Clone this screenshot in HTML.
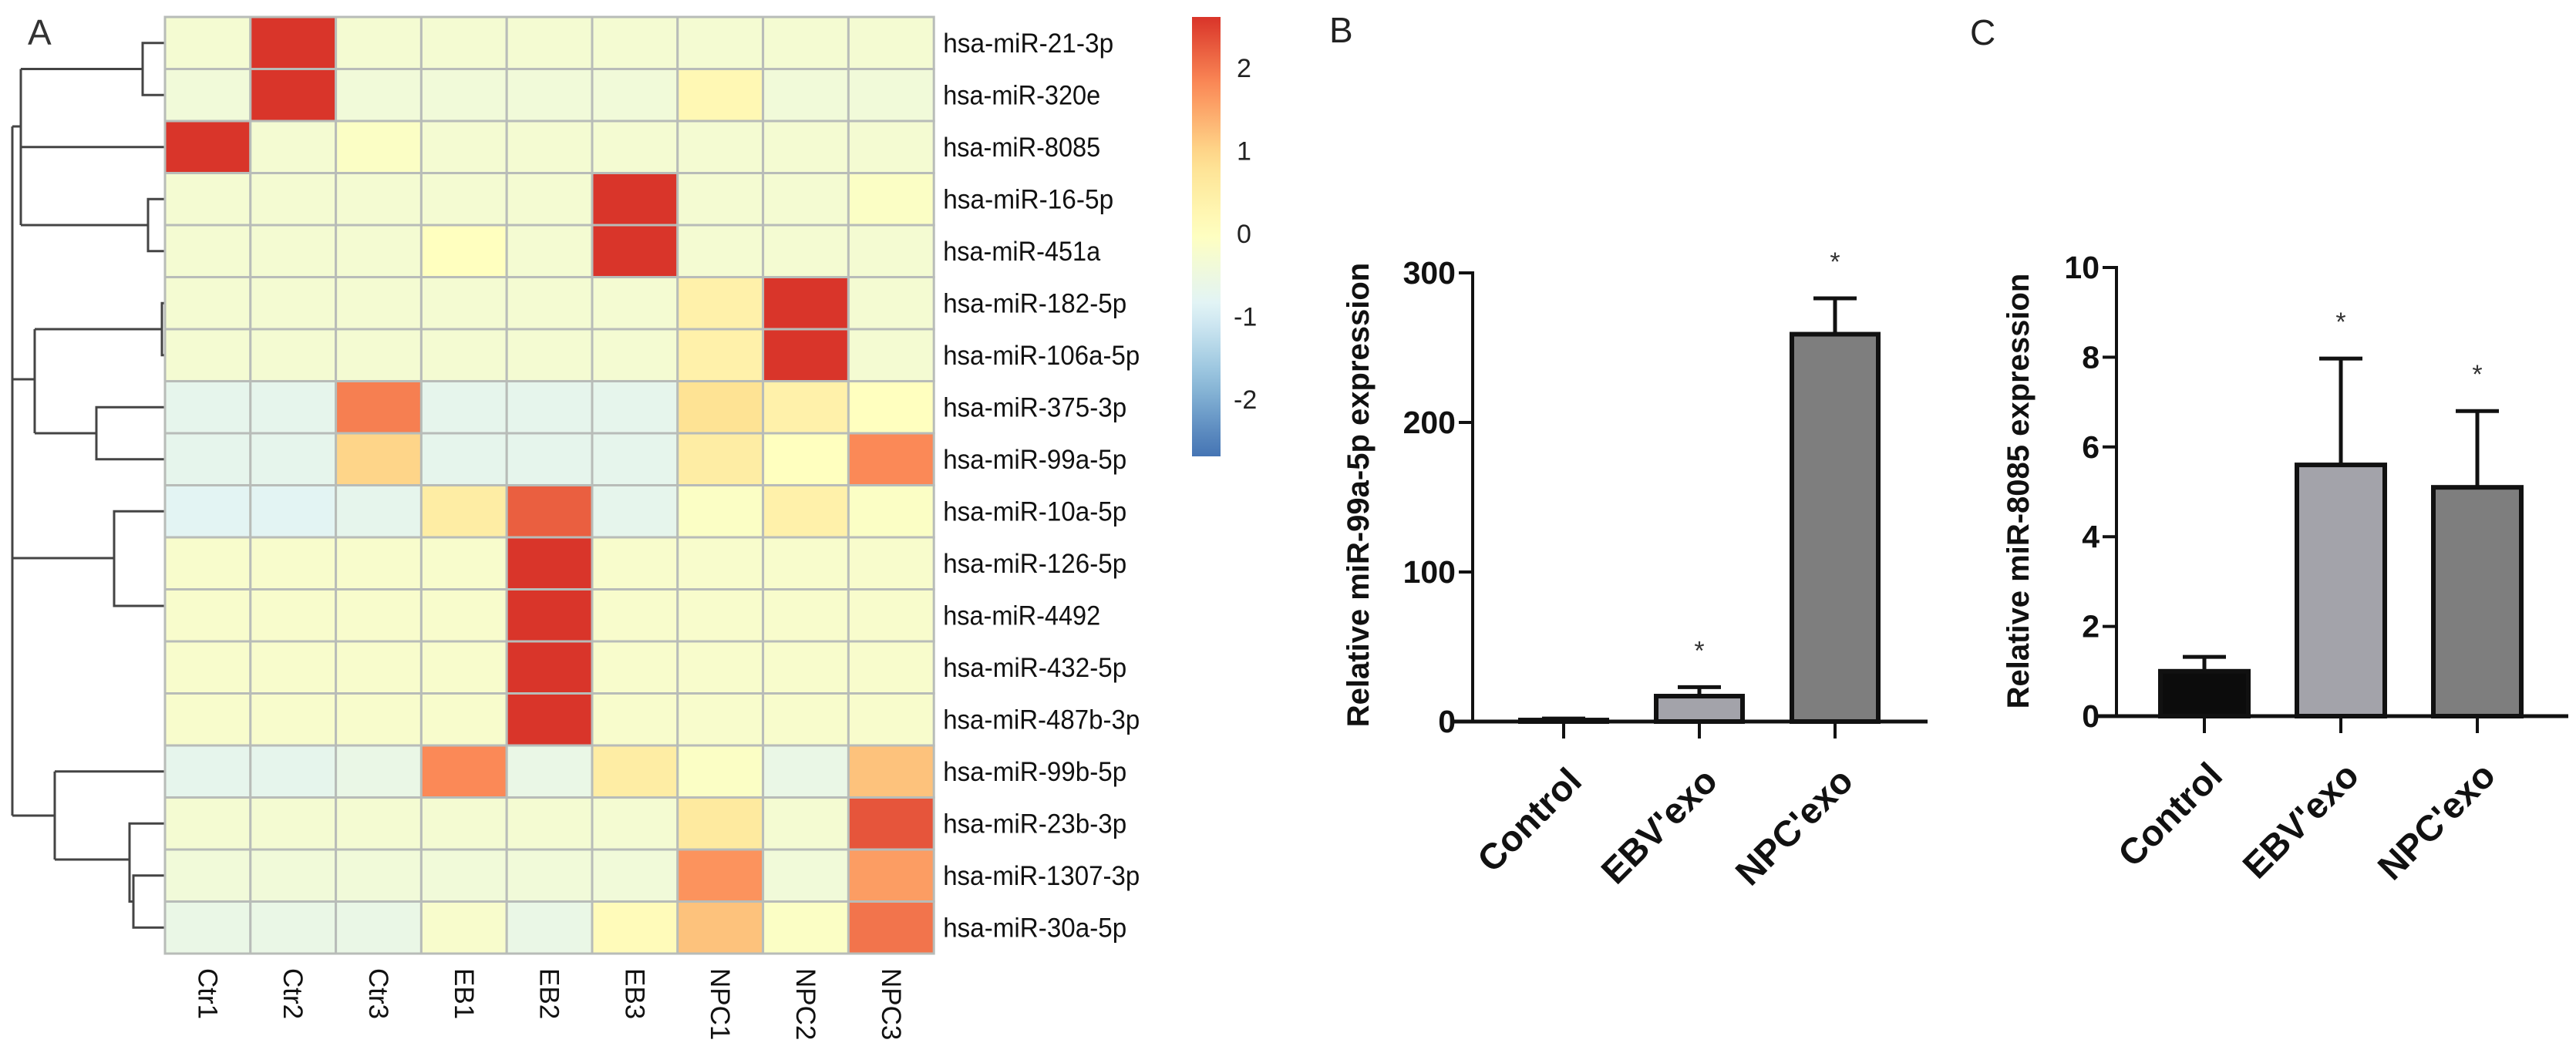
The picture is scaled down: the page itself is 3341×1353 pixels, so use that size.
<!DOCTYPE html>
<html><head><meta charset="utf-8"><style>
html,body{margin:0;padding:0;background:#fff;}
svg{display:block;font-family:"Liberation Sans",Arial,sans-serif;}
</style></head><body>
<svg id="fig" width="3341" height="1353" viewBox="0 0 3341 1353" xmlns="http://www.w3.org/2000/svg">
<rect width="3341" height="1353" fill="#fff"/>
<text x="36" y="58" font-size="46" fill="#333">A</text>
<text x="1724" y="55" font-size="46" fill="#222">B</text>
<text x="2555" y="58" font-size="46" fill="#222">C</text>
<g id="dendro" stroke="#444" stroke-width="3" fill="none"></g>
<g id="heat"></g>
<g id="cbar"></g>
<g id="chartB"></g>
<g id="chartC"></g>
</svg>
<script>
const rowNames=["hsa-miR-21-3p","hsa-miR-320e","hsa-miR-8085","hsa-miR-16-5p","hsa-miR-451a","hsa-miR-182-5p","hsa-miR-106a-5p","hsa-miR-375-3p","hsa-miR-99a-5p","hsa-miR-10a-5p","hsa-miR-126-5p","hsa-miR-4492","hsa-miR-432-5p","hsa-miR-487b-3p","hsa-miR-99b-5p","hsa-miR-23b-3p","hsa-miR-1307-3p","hsa-miR-30a-5p"];
const colNames=["Ctr1","Ctr2","Ctr3","EB1","EB2","EB3","NPC1","NPC2","NPC3"];
const heatValues=[
[-0.3,2.6,-0.3,-0.3,-0.3,-0.3,-0.3,-0.3,-0.3],
[-0.4,2.6,-0.4,-0.4,-0.4,-0.4,0.2,-0.4,-0.4],
[2.6,-0.3,-0.1,-0.3,-0.3,-0.3,-0.3,-0.3,-0.3],
[-0.3,-0.3,-0.3,-0.3,-0.3,2.6,-0.3,-0.3,-0.1],
[-0.3,-0.3,-0.3,0.0,-0.3,2.6,-0.3,-0.3,-0.3],
[-0.3,-0.3,-0.3,-0.3,-0.3,-0.3,0.4,2.6,-0.3],
[-0.3,-0.3,-0.3,-0.3,-0.3,-0.3,0.4,2.6,-0.3],
[-0.7,-0.7,1.9,-0.7,-0.7,-0.7,0.8,0.4,0.0],
[-0.7,-0.7,1.0,-0.7,-0.7,-0.7,0.5,0.0,1.8],
[-0.8,-0.8,-0.7,0.5,2.2,-0.7,-0.1,0.4,-0.1],
[-0.2,-0.2,-0.2,-0.2,2.6,-0.2,-0.2,-0.2,-0.2],
[-0.2,-0.2,-0.2,-0.2,2.6,-0.2,-0.2,-0.2,-0.2],
[-0.2,-0.2,-0.2,-0.2,2.6,-0.2,-0.2,-0.2,-0.2],
[-0.2,-0.2,-0.2,-0.2,2.6,-0.2,-0.2,-0.2,-0.2],
[-0.7,-0.7,-0.6,1.8,-0.6,0.5,-0.1,-0.6,1.2],
[-0.3,-0.3,-0.3,-0.3,-0.3,-0.3,0.6,-0.3,2.3],
[-0.4,-0.4,-0.4,-0.4,-0.4,-0.4,1.7,-0.4,1.6],
[-0.6,-0.6,-0.6,-0.2,-0.6,0.1,1.2,-0.1,2.0]];
const cbarTicks=[2,1,0,-1,-2];
const catsB=["Control","EBV'exo","NPC'exo"];
const meansB=[1,17,259];
const errTopB=[2,23,283];
const sigB=[false,true,true];
const ticksB=[0,100,200,300];
const catsC=["Control","EBV'exo","NPC'exo"];
const meansC=[1.0,5.6,5.1];
const errTopC=[1.32,7.97,6.8];
const sigC=[false,true,true];
const ticksC=[0,2,4,6,8,10];
const barFills=["#0c0c0c","#a3a3aa","#7e7e7e"];

const NS="http://www.w3.org/2000/svg";
function mk(tag,attrs,parent,txt){const e=document.createElementNS(NS,tag);for(const k in attrs)e.setAttribute(k,attrs[k]);if(txt!==undefined)e.textContent=txt;parent.appendChild(e);return e;}
const pal=["#4575B4","#91BFDB","#E0F3F8","#FFFFBF","#FEE090","#FC8D59","#D73027"];
const vmin=-2.65,vmax=2.65;
function hex(h){return [parseInt(h.substr(1,2),16),parseInt(h.substr(3,2),16),parseInt(h.substr(5,2),16)];}
function col(v){let t=(v-vmin)/(vmax-vmin);t=Math.max(0,Math.min(1,t))*(pal.length-1);const i=Math.min(pal.length-2,Math.floor(t));const f=t-i;const a=hex(pal[i]),b=hex(pal[i+1]);return "rgb("+a.map((x,k)=>Math.round(x+(b[k]-x)*f)).join(",")+")";}
const hx0=214,hy0=22,cw=110.8,ch=67.5;
const heat=document.getElementById('heat');
heatValues.forEach((row,r)=>row.forEach((v,c)=>{
 const e=mk('rect',{x:hx0+c*cw,y:hy0+r*ch,width:cw,height:ch,fill:col(v),stroke:"#b8bcb8","stroke-width":3},heat);
 
 
}));
rowNames.forEach((n,r)=>{
 const e=mk('text',{x:hx0+9*cw+12,y:hy0+r*ch+ch/2+12,"font-size":35,fill:"#111",textLength:n.length*17,lengthAdjust:"spacingAndGlyphs"},heat,n);
 
 
});
colNames.forEach((n,c)=>{
 const cx=hx0+c*cw+cw/2;
 const e=mk('text',{x:0,y:0,"font-size":35,fill:"#111",transform:`translate(${cx-12},1256) rotate(90)`},heat,n);
 
 
});
const cb=document.getElementById('cbar');
const cbx=1546,cbw=37,cbTop=22,cbBot=592,unit=107.5,zeroY=303;
const defs=mk('defs',{},cb);
const g=mk('linearGradient',{id:'cg',x1:0,y1:1,x2:0,y2:0},defs);
for(let i=0;i<=20;i++){const yv=cbBot-(cbBot-cbTop)*i/20;const v=(zeroY-yv)/unit;mk('stop',{offset:(i/20),"stop-color":col(v)},g);}
const cbr=mk('rect',{x:cbx,y:cbTop,width:cbw,height:cbBot-cbTop,fill:"url(#cg)"},cb);


cbarTicks.forEach(t=>{const e=mk('text',{x:cbx+(t<0?54:58),y:zeroY-t*unit+12,"font-size":34,fill:"#222"},cb,String(t));
 
 });
const d=document.getElementById('dendro');
const yc=i=>hy0+ch*(i+0.5);
const segs=[
 [[213,yc(0)],[185,yc(0)],[185,yc(1)],[213,yc(1)]],
 [[185,(yc(0)+yc(1))/2],[27,(yc(0)+yc(1))/2]],
 [[213,yc(2)],[27,yc(2)]],
 [[213,yc(3)],[192,yc(3)],[192,yc(4)],[213,yc(4)]],
 [[192,(yc(3)+yc(4))/2],[27,(yc(3)+yc(4))/2]],
 [[27,(yc(0)+yc(1))/2],[27,(yc(3)+yc(4))/2]],
 [[27,164],[16,164]],
 [[213,yc(5)],[210,yc(5)],[210,yc(6)],[213,yc(6)]],
 [[210,(yc(5)+yc(6))/2],[45,(yc(5)+yc(6))/2]],
 [[213,yc(7)],[125,yc(7)],[125,yc(8)],[213,yc(8)]],
 [[125,(yc(7)+yc(8))/2],[45,(yc(7)+yc(8))/2]],
 [[45,(yc(5)+yc(6))/2],[45,(yc(7)+yc(8))/2]],
 [[45,492],[16,492]],
 [[213,yc(9)],[148,yc(9)],[148,786],[213,786]],
 [[148,724],[16,724]],
 [[213,yc(14)],[71,yc(14)]],
 [[213,yc(16)],[173,yc(16)],[173,yc(17)],[213,yc(17)]],
 [[213,yc(15)],[168,yc(15)],[168,(yc(16)+yc(17))/2],[173,(yc(16)+yc(17))/2]],
 [[168,1115],[71,1115]],
 [[71,yc(14)],[71,1115]],
 [[71,1058],[16,1058]],
 [[16,164],[16,1058]]
];
segs.forEach(s=>{const e=mk('polyline',{points:s.map(p=>p.join(',')).join(' ')},d);
 
 });
function barChart(id,o){
 const G=document.getElementById(id);
 const ys=v=>o.y0-(v-o.vmin)/(o.vmax-o.vmin)*(o.y0-o.yTop);
 const xs=i=>o.c0+i*o.step;
 const ya=mk('line',{x1:o.ax,y1:ys(o.vmax)-2,x2:o.ax,y2:o.y0+2,stroke:"#111","stroke-width":4},G);
 
 const xa=mk('line',{x1:o.xl,y1:o.y0,x2:o.xr,y2:o.y0,stroke:"#111","stroke-width":5},G);
 
 o.ticks.forEach(t=>{
  const tl=mk('line',{x1:o.ax-18,y1:ys(t),x2:o.ax,y2:ys(t),stroke:"#111","stroke-width":4},G);
  
  const tx=mk('text',{x:o.ax-22,y:ys(t)+14,"font-size":41,"font-weight":"bold","text-anchor":"end",fill:"#111"},G,String(t));
  
 });
 const tt=mk('text',{x:0,y:0,"font-size":40,"font-weight":"bold","text-anchor":"middle",fill:"#111",transform:`translate(${o.titleX},${o.titleY}) rotate(-90)`},G,o.title);
 
 o.cats.forEach((c,i)=>{
  const cx=xs(i),top=ys(o.means[i]);
  const el=mk('line',{x1:cx,y1:top,x2:cx,y2:ys(o.err[i]),stroke:"#111","stroke-width":5},G);
  
  const cap=mk('line',{x1:cx-28,y1:ys(o.err[i]),x2:cx+28,y2:ys(o.err[i]),stroke:"#111","stroke-width":5},G);
  
  const b=mk('rect',{x:cx-o.bw/2,y:top,width:o.bw,height:Math.max(0,o.y0-top),fill:o.fills[i],stroke:"#111","stroke-width":6},G);
  
  const tk=mk('line',{x1:cx,y1:o.y0,x2:cx,y2:o.y0+22,stroke:"#111","stroke-width":4},G);
  
  const lb=mk('text',{x:0,y:0,"font-size":47,"font-weight":"bold","text-anchor":"end",fill:"#111",transform:`translate(${cx+26},${o.y0+80}) rotate(-45)`},G,c);
  
  if(o.sig[i]){const s=mk('text',{x:cx,y:ys(o.err[i])-36,"font-size":34,"text-anchor":"middle",fill:"#333"},G,"*");
   }
 });
}
barChart('chartB',{ax:1910,xl:1884,xr:2500,y0:936,yTop:354,vmin:0,vmax:300,c0:2028,step:176,bw:112,ticks:ticksB,cats:catsB,means:meansB,err:errTopB,sig:sigB,fills:["#111","#a3a3aa","#7e7e7e"],title:"Relative miR-99a-5p expression",titleX:1775,titleY:642});
barChart('chartC',{ax:2745,xl:2718,xr:3331,y0:929,yTop:347,vmin:0,vmax:10,c0:2859,step:177,bw:114,ticks:ticksC,cats:catsC,means:meansC,err:errTopC,sig:sigC,fills:barFills,title:"Relative miR-8085 expression",titleX:2631,titleY:637});
</script>
</body></html>
